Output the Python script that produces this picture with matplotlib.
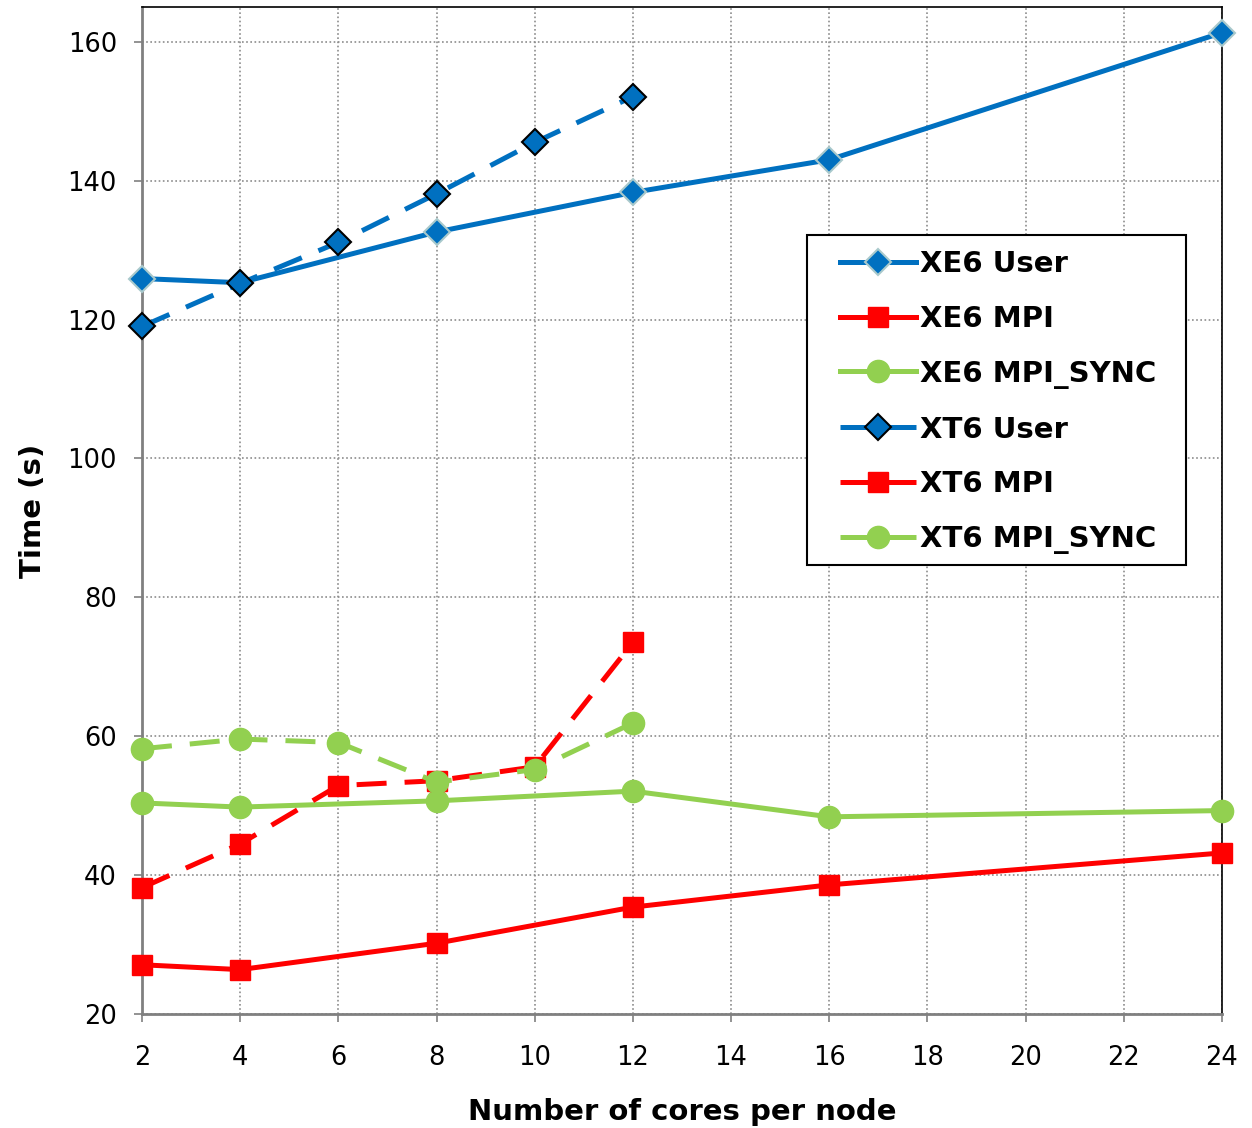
import matplotlib
matplotlib.use('Agg')
import matplotlib.pyplot as plt
from matplotlib import rcParams
import matplotlib.patches as patches

rcParams.update({
    'font.family': 'DejaVu Sans',
    'font.size': 18,
})

# cores per node
CORES_XE6 = [2, 4, 8, 12, 16, 24]
CORES_XT6 = [2, 4, 6, 8, 10, 12]

# timings (s)
XE6_USER = [125.9, 125.3, 132.6, 138.3, 143.0, 161.3]
XE6_MPI = [27.1, 26.4, 30.2, 35.4, 38.6, 43.2]
XE6_SYNC = [50.4, 49.8, 50.7, 52.1, 48.4, 49.3]
XT6_USER = [119.0, 125.2, 131.1, 138.1, 145.5, 152.1]
XT6_MPI = [38.2, 44.5, 52.9, 53.6, 55.6, 73.5]
XT6_SYNC = [58.2, 59.6, 59.1, 53.4, 55.2, 61.9]

BLUE = '#0070C0'
RED = '#FF0000'
GREEN = '#92D050'

fig = plt.figure(figsize=(12.52, 11.28), dpi=100)
ax = fig.add_axes([0.1134, 0.101, 0.8626, 0.8928])

lw = 3.6
dash = (6.0, 3.6)
ax.plot(CORES_XE6, XE6_USER, color=BLUE, lw=lw, marker='D', ms=13,
        mfc=BLUE, mec='#A9C9CC', mew=1.5, label='XE6 User', clip_on=False, zorder=5)
ax.plot(CORES_XE6, XE6_MPI, color=RED, lw=lw, marker='s', ms=15,
        mfc=RED, mec=RED, label='XE6 MPI', clip_on=False, zorder=5)
ax.plot(CORES_XE6, XE6_SYNC, color=GREEN, lw=lw, marker='o', ms=16,
        mfc=GREEN, mec=GREEN, label='XE6 MPI_SYNC', clip_on=False, zorder=5)
ax.plot(CORES_XT6, XT6_USER, color=BLUE, lw=lw, ls=(0, dash), marker='D', ms=13,
        mfc=BLUE, mec='black', mew=1.5, label='XT6 User', clip_on=False, zorder=5)
ax.plot(CORES_XT6, XT6_MPI, color=RED, lw=lw, ls=(0, dash), marker='s', ms=15,
        mfc=RED, mec=RED, label='XT6 MPI', clip_on=False, zorder=5)
ax.plot(CORES_XT6, XT6_SYNC, color=GREEN, lw=lw, ls=(0, dash), marker='o', ms=16,
        mfc=GREEN, mec=GREEN, label='XT6 MPI_SYNC', clip_on=False, zorder=5)

ax.set_xlim(2, 24)
ax.set_ylim(20, 165)
ax.set_xticks(range(2, 25, 2))
ax.set_yticks(range(20, 161, 20))
ax.grid(True, ls=(0, (1, 1.5)), color='#8c8c8c', lw=1.2)
ax.tick_params(direction='out', length=6, width=1.2, color='#808080', labelsize=18.5, pad=12)
ax.tick_params(axis='x', pad=16)

for side in ('left', 'bottom'):
    ax.spines[side].set_color('#808080')
    ax.spines[side].set_linewidth(2)
for side in ('top', 'right'):
    ax.spines[side].set_color('black')
    ax.spines[side].set_linewidth(1.2)

ax.set_xlabel('Number of cores per node', fontsize=21, fontweight='bold', labelpad=20)
ax.set_ylabel('Time (s)', fontsize=21, fontweight='bold', labelpad=15)

# legend box drawn by hand so its padding matches the original
ax.add_patch(patches.Rectangle((0.6157, 0.4459), 0.351, 0.3277, transform=ax.transAxes,
                               facecolor='white', edgecolor='black', linewidth=1.5,
                               zorder=9, clip_on=False))
leg = ax.legend(loc='upper left', bbox_to_anchor=(0.6463, 0.7587),
                prop={'size': 21, 'weight': 'bold'}, frameon=False,
                handlelength=2.6, handletextpad=0.15,
                labelspacing=0.92, borderpad=0, borderaxespad=0)
leg.set_zorder(10)

fig.savefig('out.png', dpi=100)
